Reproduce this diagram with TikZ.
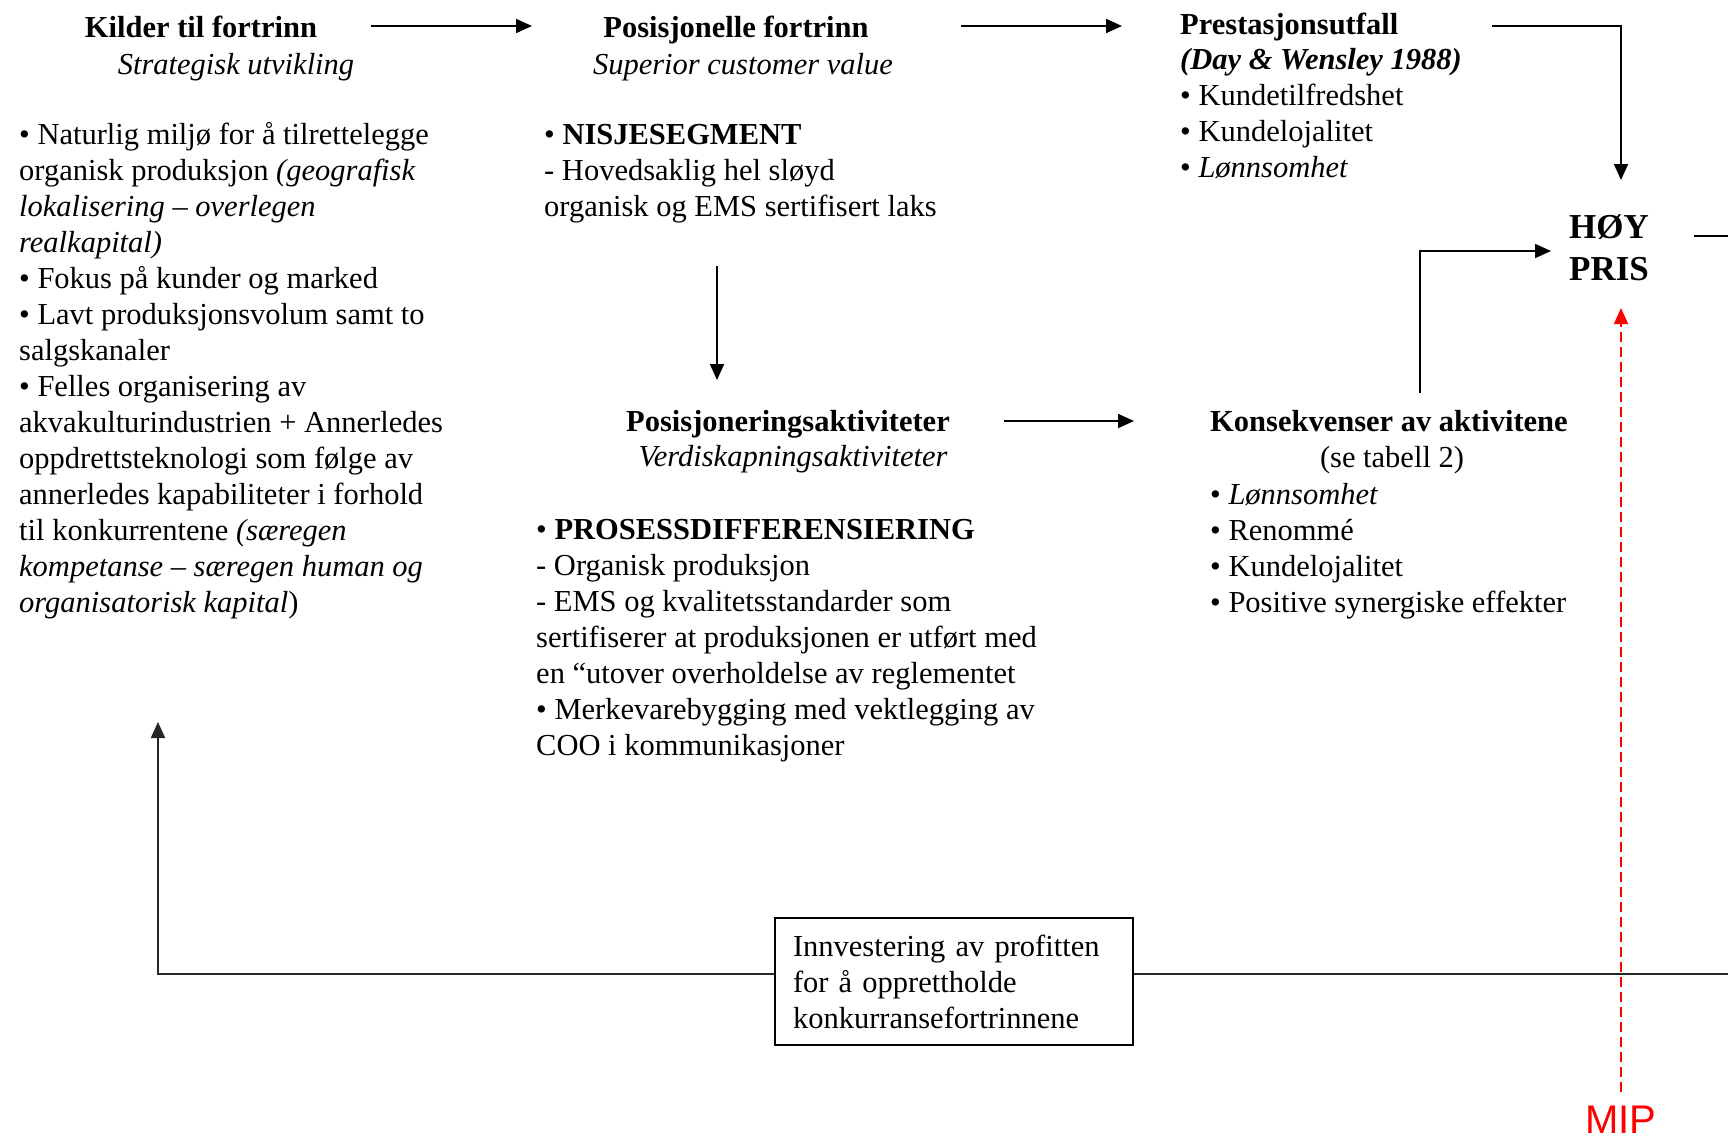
\documentclass[tikz,border=0pt]{standalone}
\usepackage{fontspec}
\setmainfont{Liberation Serif}
\newfontfamily\mipfont{Liberation Sans}
\usetikzlibrary{arrows.meta}
\newcommand\fs{\rule{0pt}{28pt}}
\begin{document}
\begin{tikzpicture}[x=1pt,y=-1pt,
  every node/.style={inner sep=0pt, font=\fontsize{30.5}{36}\selectfont},
  blk/.style={anchor=north west, align=left},
  ttl/.style={anchor=base, text height=21pt, text depth=6pt, font=\fontsize{30.5}{36}\selectfont\bfseries},
  subt/.style={anchor=base, font=\fontsize{30.5}{36}\selectfont\itshape},
  arr/.style={line width=1.8pt, -{Triangle[length=16pt,width=14pt]}},
  redarr/.style={line width=1.6pt, red, dash pattern=on 10pt off 5pt, -{Triangle[length=16pt,width=14pt]}},
  loopline/.style={line width=2pt, black!85}]
\useasboundingbox (0,0) rectangle (1728,1143);
\fill[white] (0,0) rectangle (1728,1143);

% column 1
\node[ttl] (kil) at (201,37) {Kilder til fortrinn};
\node[subt] (strat) at (236,74) {Strategisk utvikling};
\node[blk] (src) at (19,116) {\fs• Naturlig miljø for å tilrettelegge\\
organisk produksjon \textit{(geografisk}\\
\textit{lokalisering – overlegen}\\
\textit{realkapital)}\\
• Fokus på kunder og marked\\
• Lavt produksjonsvolum samt to\\
salgskanaler\\
• Felles organisering av\\
akvakulturindustrien + Annerledes\\
oppdrettsteknologi som følge av\\
annerledes kapabiliteter i forhold\\
til konkurrentene \textit{(særegen}\\
\textit{kompetanse – særegen human og}\\
\textit{organisatorisk kapital})};

% column 2
\node[ttl] (posf) at (736,37) {Posisjonelle fortrinn};
\node[subt] (scv) at (743,74) {Superior customer value};
\node[blk] (nis) at (544,116) {\fs• \textbf{NISJESEGMENT}\\
- Hovedsaklig hel sløyd\\
organisk og EMS sertifisert laks};
\node[ttl] (posa) at (788,431) {Posisjoneringsaktiviteter};
\node[subt] (verd) at (793,466) {Verdiskapningsaktiviteter};
\node[blk] (pros) at (536,511) {\fs• \textbf{PROSESSDIFFERENSIERING}\\
- Organisk produksjon\\
- EMS og kvalitetsstandarder som\\
sertifiserer at produksjonen er utført med\\
en “utover overholdelse av reglementet\\
• Merkevarebygging med vektlegging av\\
COO i kommunikasjoner};

% column 3
\node[ttl, anchor=base west] (prT) at (1180,34) {Prestasjonsutfall};
\node[blk] (prB) at (1180,41) {\fs\textbf{\textit{(Day \& Wensley 1988)}}\\
• Kundetilfredshet\\
• Kundelojalitet\\
• \textit{Lønnsomhet}};
\node[ttl, anchor=base west] (konsT) at (1210,431) {Konsekvenser av aktivitene};
\node[anchor=base] (tab) at (1392,467) {(se tabell 2)};
\node[blk] (konsB) at (1210,476) {\fs• \textit{Lønnsomhet}\\
• Renommé\\
• Kundelojalitet\\
• Positive synergiske effekter};

% HOY PRIS
\node[blk, font=\fontsize{35}{42}\selectfont\bfseries] (hoy) at (1569,208) {\rule{0pt}{30pt}HØY\\PRIS};

% box
\node[draw, line width=1.3pt, align=left, text width=322pt, inner xsep=18pt, inner ysep=0pt, minimum height=127pt] (inv) at (954,981.5) {Innvestering av profitten\\for å opprettholde\\konkurransefortrinnene};

% MIP
\node[anchor=base, text=red, font=\mipfont\fontsize{40}{40}\selectfont] (mip) at (1621,1133) {MIP};

\coordinate (edgeA) at (1728,236);
\coordinate (edgeB) at (1728,974);

% connectors
\draw[arr] ([xshift=170pt,yshift=3.5pt]kil.center) -- ([xshift=-204pt,yshift=3.5pt]posf.center);
\draw[arr] ([xshift=225pt,yshift=3.5pt]posf.center) -- ([xshift=-58pt,yshift=0.5pt]prT.west);
\draw[arr] ([xshift=312pt,yshift=0.5pt]prT.west) -| ([xshift=52pt,yshift=28pt]hoy.north west);
\draw[arr] ([xshift=173pt,yshift=-150pt]nis.north west) -- ([xshift=-71pt,yshift=43.5pt]posa.center);
\draw[arr] ([xshift=216pt,yshift=2.5pt]posa.center) -- ([xshift=-76pt,yshift=2.5pt]konsT.west);
\draw[arr] ([xshift=210pt,yshift=30.5pt]konsT.west) |- ([xshift=-18pt,yshift=-43pt]hoy.north west);
\draw[line width=1.8pt] ([xshift=125pt,yshift=-28pt]hoy.north west) -- (edgeA);
\draw[redarr] ([yshift=13pt]mip.north) -- ([xshift=52pt,yshift=-100pt]hoy.north west);
\draw[loopline, -{Triangle[length=16pt,width=14pt]}] ([yshift=7.5pt]inv.west) -| ([xshift=139pt,yshift=-606pt]src.north west);
\draw[loopline] ([yshift=7.5pt]inv.east) -- (edgeB);
\end{tikzpicture}
\end{document}
